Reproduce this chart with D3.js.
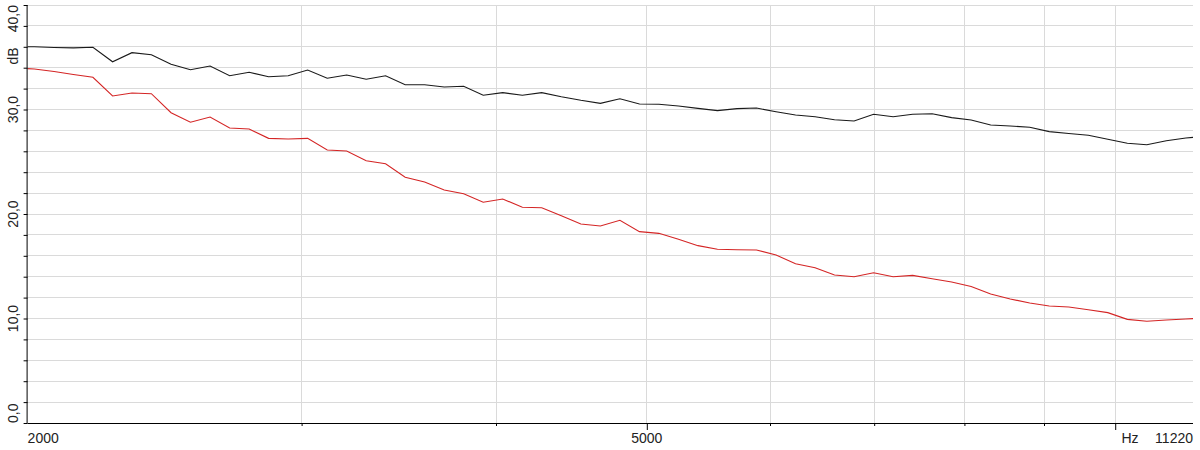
<!DOCTYPE html>
<html><head><meta charset="utf-8">
<script src="https://cdn.jsdelivr.net/npm/d3@7"></script>
<style>
html,body{margin:0;padding:0;background:#fff;}
svg{display:block;font-family:"Liberation Sans",Arial,sans-serif;}
</style></head>
<body><svg id="chart" width="1200" height="450"></svg>
<script>
const freqs = [1962, 2020, 2080, 2140, 2203, 2268, 2334, 2402, 2473, 2545, 2620, 2697, 2776, 2857, 2941, 3027, 3116, 3207, 3301, 3397, 3497, 3599, 3705, 3813, 3925, 4040, 4159, 4280, 4406, 4535, 4668, 4805, 4946, 5090, 5240, 5393, 5551, 5714, 5881, 6054, 6231, 6414, 6601, 6795, 6994, 7199, 7410, 7627, 7850, 8080, 8317, 8561, 8812, 9070, 9336, 9610, 9891, 10181, 10479, 10786, 11102, 11428];
const blackSeries = [36.03, 36.0, 35.93, 35.9, 35.95, 34.57, 35.44, 35.24, 34.33, 33.81, 34.16, 33.23, 33.56, 33.14, 33.23, 33.78, 32.99, 33.30, 32.89, 33.23, 32.37, 32.37, 32.15, 32.22, 31.36, 31.61, 31.36, 31.61, 31.22, 30.88, 30.59, 31.03, 30.53, 30.50, 30.33, 30.11, 29.89, 30.08, 30.14, 29.79, 29.47, 29.31, 29.02, 28.90, 29.54, 29.31, 29.54, 29.60, 29.22, 29.0, 28.52, 28.42, 28.30, 27.88, 27.70, 27.53, 27.15, 26.77, 26.63, 27.01, 27.27, 27.45];
const redSeries = [33.97, 33.88, 33.64, 33.35, 33.08, 31.29, 31.58, 31.51, 29.69, 28.78, 29.28, 28.23, 28.13, 27.24, 27.18, 27.24, 26.12, 26.03, 25.10, 24.81, 23.51, 23.06, 22.30, 21.94, 21.12, 21.44, 20.64, 20.60, 19.84, 19.04, 18.85, 19.40, 18.31, 18.15, 17.58, 16.97, 16.62, 16.58, 16.56, 16.08, 15.24, 14.86, 14.16, 14.0, 14.38, 14.0, 14.13, 13.81, 13.49, 13.06, 12.34, 11.87, 11.48, 11.20, 11.10, 10.84, 10.56, 9.92, 9.73, 9.86, 9.95, 10.05];
const xDomain = [2000, 11220];
const xGridValues = [3000, 4000, 5000, 6000, 7000, 8000, 9000, 10000];
const xMajorTicks = [5000, 10000];
const xLabels = [{v: 2000, t: "2000", a: "start"}, {v: 5000, t: "5000", a: "middle"}];
const yTickValues = d3.range(0, 41, 2);
const yLabelValues = [0, 10, 20, 30, 40];

const L = 27.6, R = 1193, T = 5, B = 423;
const FS = 14;
const svg = d3.select("#chart");
const x = d3.scaleLog().domain(xDomain).range([L, R]);
const y = d3.scaleLinear().domain([0, 40]).range([B, T]);

// grid
const grid = svg.append("g").attr("stroke", "#dadada").attr("stroke-width", 1).attr("shape-rendering", "crispEdges");
grid.selectAll("line.h").data(yTickValues.filter(v => v > 0)).join("line")
  .attr("x1", L).attr("x2", R).attr("y1", d => y(d)).attr("y2", d => y(d));
grid.selectAll("line.v").data(xGridValues).join("line")
  .attr("y1", T).attr("y2", B).attr("x1", d => x(d)).attr("x2", d => x(d));

// clip
svg.append("clipPath").attr("id", "clip").append("rect")
  .attr("x", L).attr("y", T).attr("width", R - L).attr("height", B - T);

const line = d3.line().x((d, i) => x(freqs[i])).y(d => y(d));
const plot = svg.append("g").attr("clip-path", "url(#clip)");
plot.append("path").datum(redSeries).attr("d", line)
  .attr("fill", "none").attr("stroke", "#d42525").attr("stroke-width", 1.1);
plot.append("path").datum(blackSeries).attr("d", line)
  .attr("fill", "none").attr("stroke", "#1a1a1a").attr("stroke-width", 1.1);

// axes
const yAxis = d3.axisLeft(y).tickValues(yTickValues).tickSize(4).tickFormat("");
const gy = svg.append("g").attr("transform", `translate(${L},0)`).call(yAxis);
gy.select(".domain").attr("d", `M-0.5,${T}V${B}`).attr("stroke", "#000");
gy.selectAll(".tick line").attr("stroke", "#000");

const xAxis = d3.axisBottom(x).tickValues(xGridValues).tickSizeOuter(0).tickFormat("")
  .tickSize(3);
const gx = svg.append("g").attr("transform", `translate(0,${B})`).call(xAxis);
gx.select(".domain").attr("d", `M${L},0.5H${R}`).attr("stroke", "#000");
gx.selectAll(".tick line").attr("stroke", "#000")
  .attr("y2", d => xMajorTicks.includes(d) ? 7 : 3);

// y labels
const fmt = v => d3.format(".1f")(v).replace(".", ",");
svg.selectAll("text.yl").data(yLabelValues).join("text")
  .attr("class", "yl")
  .attr("transform", d => `translate(18,${d === 40 ? T : (d === 0 ? B : y(d))}) rotate(-90)`)
  .attr("text-anchor", d => d === 40 ? "end" : (d === 0 ? "start" : "middle"))
  .attr("font-size", FS).attr("fill", "#222")
  .text(d => fmt(d));
svg.append("text").attr("transform", `translate(18,56) rotate(-90)`)
  .attr("text-anchor", "middle").attr("font-size", FS).attr("fill", "#222").text("dB");

// x labels
svg.selectAll("text.xl").data(xLabels).join("text")
  .attr("class", "xl")
  .attr("x", d => x(d.v)).attr("y", 443)
  .attr("text-anchor", d => d.a).attr("font-size", FS).attr("fill", "#222")
  .text(d => d.t);
svg.append("text").attr("x", 1130).attr("y", 443).attr("text-anchor", "middle")
  .attr("font-size", FS).attr("fill", "#222").text("Hz");
svg.append("text").attr("x", R).attr("y", 443).attr("text-anchor", "end")
  .attr("font-size", FS).attr("fill", "#222").text(String(xDomain[1]));
</script></body></html>
